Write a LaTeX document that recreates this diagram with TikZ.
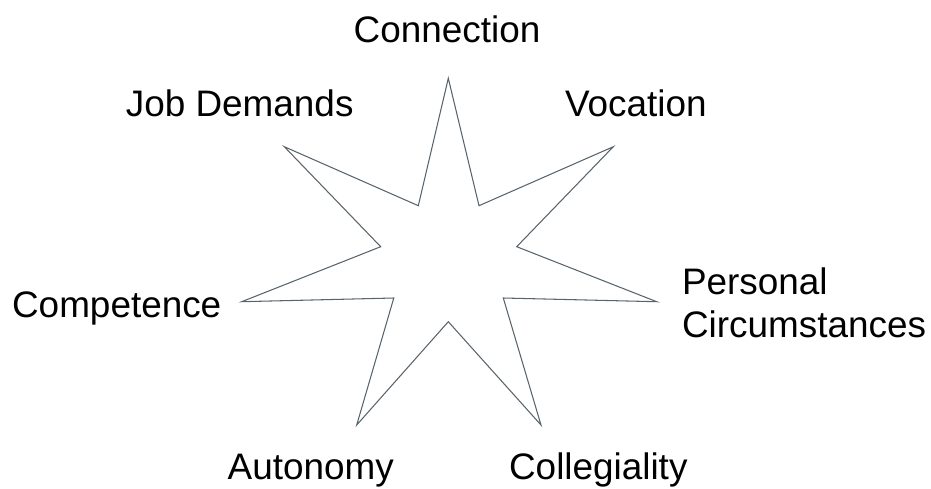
\documentclass[tikz,border=0pt]{standalone}
\usepackage{fontspec}
\setmainfont{Liberation Sans}
\usepackage{tikz}

\definecolor{starline}{RGB}{88,100,108}

\begin{document}
\begin{tikzpicture}[x=0.02cm,y=-0.02cm,inner sep=0pt,
  lbl/.style={font=\fontsize{21}{24.7}\selectfont,anchor=base}]
\useasboundingbox (0,0) rectangle (931,488);
%Star Points
\coordinate (Tip1) at (448.3,78.3);
\coordinate (In1) at (479,205.7);
\coordinate (Tip2) at (613.3,146.7);
\coordinate (In2) at (516.7,246.7);
\coordinate (Tip3) at (656.7,301.7);
\coordinate (In3) at (503.3,298);
\coordinate (Tip4) at (541,425);
\coordinate (In4) at (448.3,321.7);
\coordinate (Tip5) at (356.7,425);
\coordinate (In5) at (393.8,298);
\coordinate (Tip6) at (241.7,301.7);
\coordinate (In6) at (380.7,246.7);
\coordinate (Tip7) at (284.3,146.7);
\coordinate (In7) at (418.3,205.7);
%Star Outline
\draw [starline,line width=0.6pt,line join=miter] (Tip1) -- (In1) -- (Tip2) -- (In2) -- (Tip3) -- (In3) -- (Tip4) -- (In4) -- (Tip5) -- (In5) -- (Tip6) -- (In6) -- (Tip7) -- (In7) -- cycle;
%Labels
\node [lbl] at (447,42.7) (Connection) {Connection};
\node [lbl] at (239.7,116) (JobDemands) {Job Demands};
\node [lbl] at (635.8,116) (Vocation) {Vocation};
\node [lbl] at (116.7,317.7) (Competence) {Competence};
\node [lbl,anchor=north west,align=left] at (681.7,267.5) (Personal) {Personal\\Circumstances};
\node [lbl] at (310.8,479.3) (Autonomy) {Autonomy};
\node [lbl] at (598.3,479.3) (Collegiality) {Collegiality};
\end{tikzpicture}
\end{document}
